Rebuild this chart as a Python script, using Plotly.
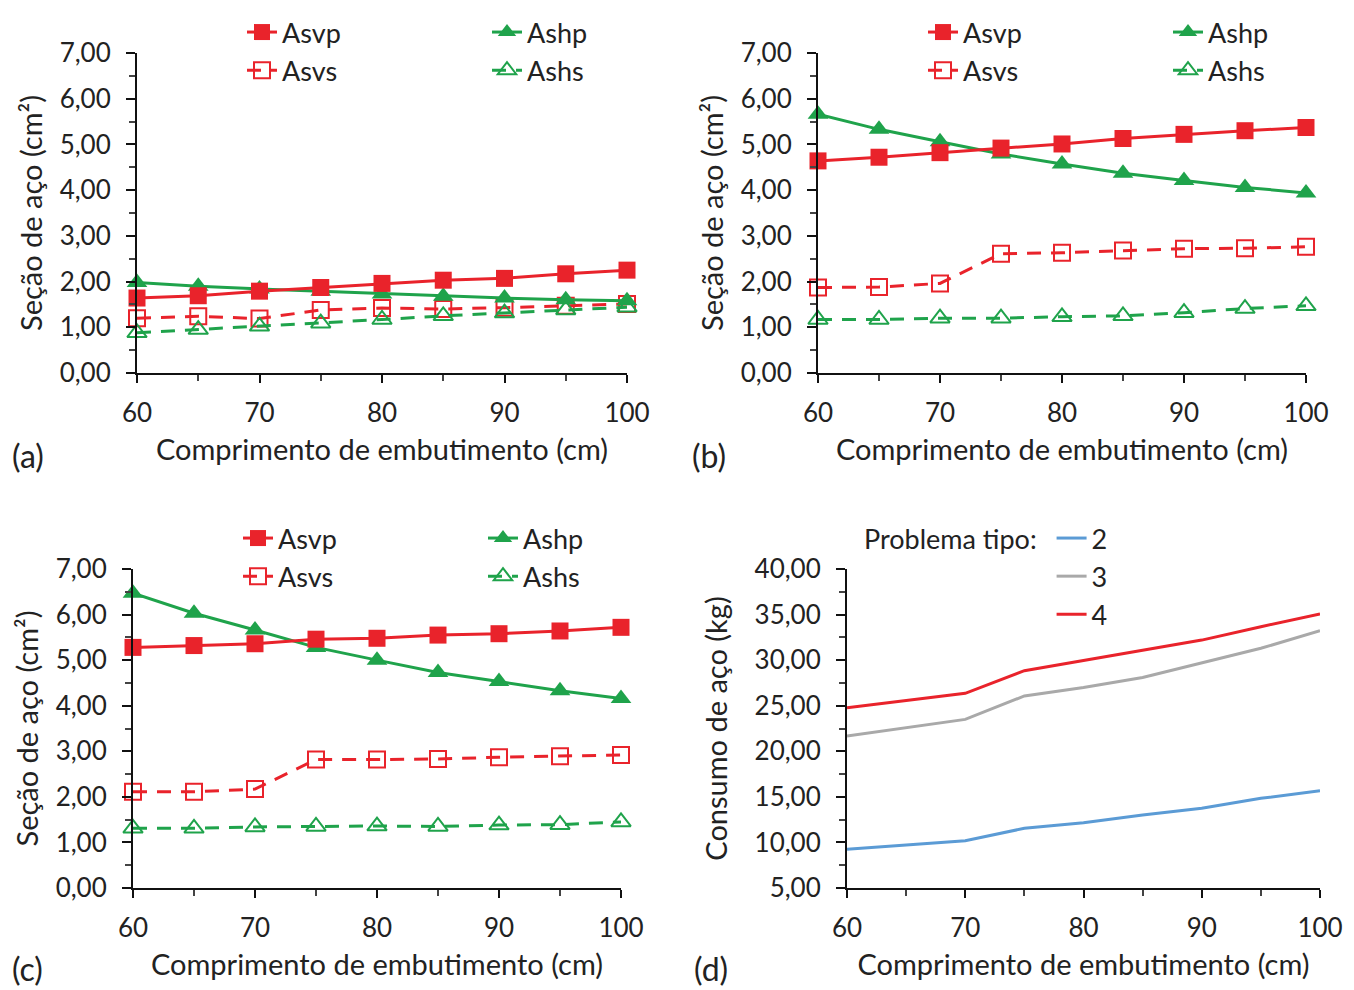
import plotly.graph_objects as go

W, H = 1354, 990
OFF = 8  # page body margin

x_cm = [60, 65, 70, 75, 80, 85, 90, 95, 100]

# Panel (a)
a_asvp = [1.64, 1.69, 1.79, 1.87, 1.96, 2.03, 2.07, 2.17, 2.25]
a_ashp = [1.98, 1.90, 1.84, 1.79, 1.73, 1.68, 1.64, 1.60, 1.58]
a_asvs = [1.20, 1.24, 1.19, 1.38, 1.42, 1.40, 1.43, 1.47, 1.51]
a_ashs = [0.88, 0.95, 1.02, 1.09, 1.17, 1.25, 1.31, 1.38, 1.44]

# Panel (b)
b_asvp = [4.64, 4.72, 4.82, 4.92, 5.01, 5.13, 5.22, 5.30, 5.37]
b_ashp = [5.66, 5.33, 5.06, 4.79, 4.57, 4.37, 4.21, 4.06, 3.94]
b_asvs = [1.87, 1.88, 1.96, 2.61, 2.63, 2.68, 2.72, 2.73, 2.76]
b_ashs = [1.17, 1.17, 1.20, 1.20, 1.23, 1.25, 1.32, 1.41, 1.47]

# Panel (c)
c_asvp = [5.28, 5.32, 5.36, 5.46, 5.48, 5.55, 5.58, 5.64, 5.72]
c_ashp = [6.47, 6.03, 5.66, 5.28, 5.00, 4.73, 4.53, 4.33, 4.16]
c_asvs = [2.11, 2.11, 2.17, 2.82, 2.82, 2.83, 2.87, 2.89, 2.92]
c_ashs = [1.31, 1.31, 1.34, 1.35, 1.36, 1.35, 1.38, 1.39, 1.45]

# Panel (d)
d_tipo2 = [9.25, 9.70, 10.19, 11.55, 12.16, 13.00, 13.74, 14.84, 15.67]
d_tipo3 = [21.68, 22.60, 23.50, 26.07, 27.00, 28.10, 29.72, 31.30, 33.23]
d_tipo4 = [24.78, 25.55, 26.36, 28.84, 29.95, 31.10, 32.20, 33.67, 35.06]

RED = "#E9232B"
GREEN = "#1FA34B"
BLUE = "#5B9BD5"
GRAY = "#A9A9A9"
FONT = "Lato"
FS = 29
TFS = 26
LFS = 27

def px_x(p):
    return (p - OFF) / W

def px_y(p):
    return 1 - (p - OFF) / H

panels = {
    "a": dict(x=(137, 627), y=(53, 373)),
    "b": dict(x=(818, 1306), y=(53, 373)),
    "c": dict(x=(133, 621), y=(569, 888)),
    "d": dict(x=(847, 1320), y=(569, 888)),
}

fig = go.Figure()

def add_steel(xax, yax, vp, hp, vs, hs, leg1, leg2):
    common = dict(x=x_cm, xaxis=xax, yaxis=yax, mode="lines+markers", cliponaxis=False)
    fig.add_trace(go.Scatter(y=vs, name="Asvs", legend=leg1, legendrank=2,
                             line=dict(color=RED, width=3, dash="14px,10px"),
                             marker=dict(symbol="square-open", size=16, color=RED, line=dict(width=2)),
                             **common))
    fig.add_trace(go.Scatter(y=hs, name="Ashs", legend=leg2, legendrank=2,
                             line=dict(color=GREEN, width=3, dash="14px,10px"),
                             marker=dict(symbol="triangle-up-open", size=17, color=GREEN, line=dict(width=2)),
                             **common))
    fig.add_trace(go.Scatter(y=hp, name="Ashp", legend=leg2, legendrank=1,
                             line=dict(color=GREEN, width=3),
                             marker=dict(symbol="triangle-up", size=18, color=GREEN),
                             **common))
    fig.add_trace(go.Scatter(y=vp, name="Asvp", legend=leg1, legendrank=1,
                             line=dict(color=RED, width=3),
                             marker=dict(symbol="square", size=17, color=RED),
                             **common))

add_steel("x", "y", a_asvp, a_ashp, a_asvs, a_ashs, "legend", "legend2")
add_steel("x2", "y2", b_asvp, b_ashp, b_asvs, b_ashs, "legend3", "legend4")
add_steel("x3", "y3", c_asvp, c_ashp, c_asvs, c_ashs, "legend5", "legend6")

for name, vals, col in [("2", d_tipo2, BLUE), ("3", d_tipo3, GRAY), ("4", d_tipo4, RED)]:
    fig.add_trace(go.Scatter(x=x_cm, y=vals, name=name, xaxis="x4", yaxis="y4",
                             mode="lines", legend="legend7",
                             line=dict(color=col, width=3), cliponaxis=False))

tickfont = dict(family=FONT, size=TFS, color="#222222")
titlefont = dict(family=FONT, size=FS, color="#222222")

def xaxis_cfg(key, anchor):
    p = panels[key]
    return dict(domain=[px_x(p["x"][0]), px_x(p["x"][1])], anchor=anchor, automargin=False,
                range=[60, 100], dtick=10, tick0=60, showgrid=False, zeroline=False,
                showline=True, linecolor="#111111", linewidth=2,
                ticks="outside", ticklen=8, tickwidth=2, tickcolor="#111111",
                minor=dict(dtick=5, ticks="outside", ticklen=6, tickwidth=2, tickcolor="#444444", showgrid=False),
                tickfont=tickfont, ticklabelstandoff=8,
                title=dict(text="Comprimento de embutimento (cm)", font=titlefont, standoff=12))

def yaxis_cfg(key, anchor, rng, dtick, minor, fmt, title, standoff):
    p = panels[key]
    return dict(domain=[px_y(p["y"][1]), px_y(p["y"][0])], anchor=anchor, automargin=False,
                range=rng, dtick=dtick, tick0=rng[0], showgrid=False, zeroline=False,
                showline=True, linecolor="#111111", linewidth=2,
                ticks="outside", ticklen=9, tickwidth=2, tickcolor="#111111",
                minor=dict(dtick=minor, ticks="outside", ticklen=6, tickwidth=2, tickcolor="#444444", showgrid=False),
                tickformat=fmt, tickfont=tickfont, ticklabelstandoff=10,
                title=dict(text=title, font=titlefont, standoff=standoff))

ytitle = "Seção de aço (cm²)"

legend_common = dict(font=dict(family=FONT, size=LFS, color="#222222"), bgcolor="rgba(0,0,0,0)",
                     orientation="v", xanchor="left", yanchor="top", tracegroupgap=0,
                     itemclick=False, itemdoubleclick=False)

def leg(x, y, **kw):
    d = dict(legend_common)
    d.update(x=px_x(x), y=px_y(y))
    d.update(kw)
    return d

fig.update_layout(
    width=W, height=H,
    margin=dict(l=0, r=0, t=0, b=0, autoexpand=False),
    paper_bgcolor="white", plot_bgcolor="white",
    separators=", ",
    font=dict(family=FONT, size=FS, color="#222222"),
    xaxis=xaxis_cfg("a", "y"),
    yaxis=yaxis_cfg("a", "x", [0, 7], 1, 0.5, ".2f", ytitle, 8),
    xaxis2=xaxis_cfg("b", "y2"),
    yaxis2=yaxis_cfg("b", "x2", [0, 7], 1, 0.5, ".2f", ytitle, 8),
    xaxis3=xaxis_cfg("c", "y3"),
    yaxis3=yaxis_cfg("c", "x3", [0, 7], 1, 0.5, ".2f", ytitle, 8),
    xaxis4=xaxis_cfg("d", "y4"),
    yaxis4=yaxis_cfg("d", "x4", [5, 40], 5, 2.5, ".2f", "Consumo de aço (kg)", 18),
    legend=leg(242, 8),
    legend2=leg(487, 8),
    legend3=leg(923, 8),
    legend4=leg(1168, 8),
    legend5=leg(238, 514),
    legend6=leg(483, 514),
    legend7=leg(862, 514, title=dict(text="Problema tipo: ", side="left",
                                       font=dict(family=FONT, size=LFS, color="#222222"))),
    showlegend=True,
)

for txt, x, y in [("(a)", 10, 455), ("(b)", 690, 455), ("(c)", 10, 968), ("(d)", 692, 968)]:
    fig.add_annotation(text=txt, x=px_x(x), y=px_y(y), xref="paper", yref="paper",
                       xanchor="left", yanchor="middle", showarrow=False,
                       font=dict(family=FONT, size=32, color="#222222"))

fig.write_html("out.html")
